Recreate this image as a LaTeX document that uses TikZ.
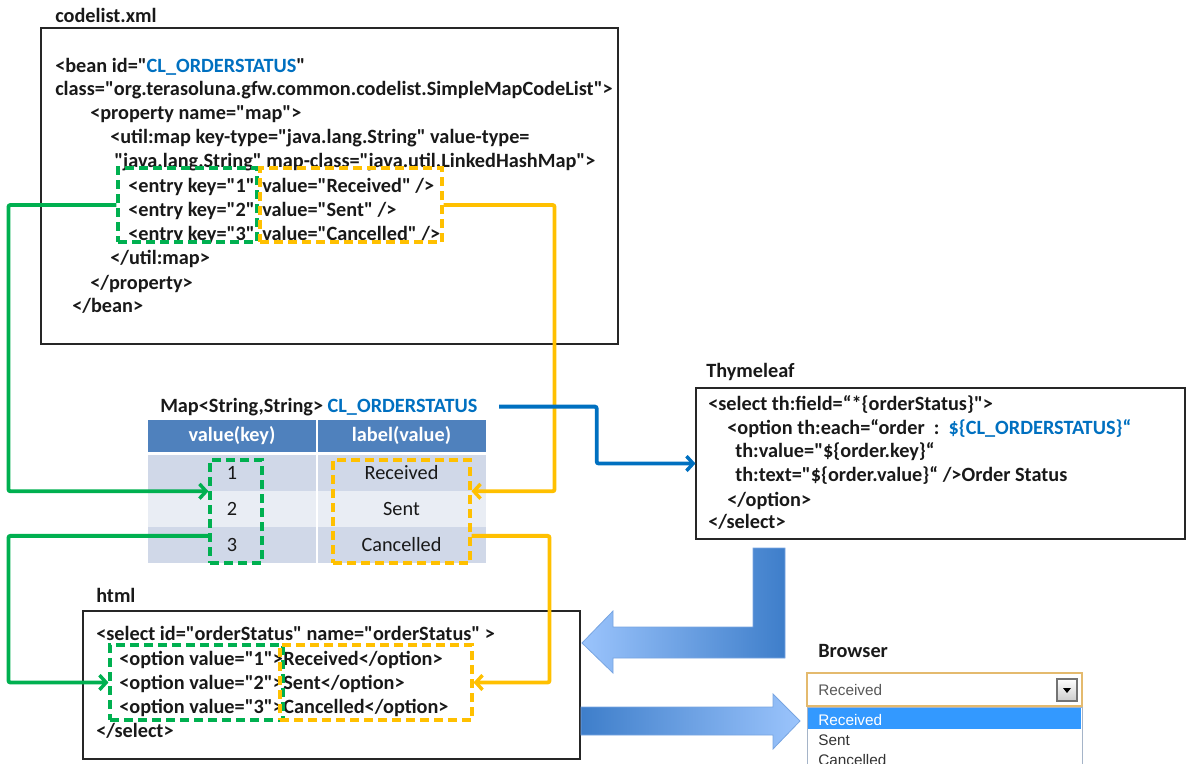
\documentclass[tikz,border=0pt]{standalone}
\usepackage{fontspec}
\setmainfont{Carlito}[Ligatures=TeXOff]
\newfontfamily\browserfont{Liberation Sans}
\usetikzlibrary{arrows.meta,fit,calc}

\definecolor{txt}{RGB}{25,25,25}
\definecolor{grn}{RGB}{0,176,80}
\definecolor{org}{RGB}{255,192,0}
\definecolor{blu}{RGB}{0,112,192}
\definecolor{hdr}{RGB}{79,129,189}
\definecolor{rowA}{RGB}{208,216,232}
\definecolor{rowB}{RGB}{233,237,244}
\definecolor{arrL}{RGB}{155,196,252}
\definecolor{arrR}{RGB}{62,126,202}
\definecolor{arrE}{RGB}{120,165,225}
\definecolor{selE}{RGB}{228,186,110}
\definecolor{hilite}{RGB}{51,153,255}
\definecolor{lstE}{RGB}{165,180,200}

\newcommand\codefont{\fontsize{15.2}{18}\selectfont\bfseries}
\newcommand\cellfont{\fontsize{15.2}{18}\selectfont}

\tikzset{
  code/.style={anchor=base west, inner sep=0pt, font=\codefont, text=txt},
  lbl/.style={code},
  codebox/.style={draw=black!85, line width=0.8pt, inner sep=0pt},
  grnbox/.style={draw=grn, line width=2.3pt, dash pattern=on 7pt off 3.5pt, inner sep=0pt},
  orgbox/.style={draw=org, line width=2.3pt, dash pattern=on 7pt off 3.5pt, inner sep=0pt},
  hdrcell/.style={fill=hdr, text=white, font=\codefont, inner sep=0pt,
    minimum width=126pt, minimum height=24pt},
  cell/.style={text=txt, font=\cellfont, inner sep=0pt,
    minimum width=126pt, minimum height=27pt},
  tip/.style={-{Straight Barb[length=5pt,width=11pt,line width=2.6pt]}},
  grnline/.style={draw=grn, line width=2.9pt, rounded corners=1.5pt, tip},
  orgline/.style={draw=org, line width=2.9pt, rounded corners=1.5pt, tip},
  bluline/.style={draw=blu, line width=2.9pt, rounded corners=1.5pt, tip},
  bigarrow/.style={draw=arrE, line width=0.6pt},
  brtext/.style={anchor=base west, inner sep=0pt, font=\browserfont\fontsize{11.5}{13}\selectfont}
}

\begin{document}
\begin{tikzpicture}[x=0.75pt,y=-0.75pt]
  \useasboundingbox (0,0) rectangle (1186,764);

  % codelist.xml
  \node[lbl] (xmllbl) at (55,22) {codelist.xml};
  \node[codebox, fit={(41,28)(618,344)}] (xmlbox) {};
  \node[code] (x1) at (55,72) {<bean id="\textcolor{blu}{CL\_ORDERSTATUS}"};
  \node[code] (x2) at (55,95) {class="org.terasoluna.gfw.common.codelist.SimpleMapCodeList">};
  \node[code] (x3) at (90,119) {<property name="map">};
  \node[code] (x4) at (110,143) {<util:map key-type="java.lang.String" value-type=};
  \node[code] (x5) at (114,167) {"java.lang.String" map-class="java.util.LinkedHashMap">};
  \node[code] (k1) at (128,192) {<entry key="1"};
  \node[code] (k2) at (128,216) {<entry key="2"};
  \node[code] (k3) at (128,240) {<entry key="3"};
  \node[code] (v1) at (262,192) {value="Received" />};
  \node[code] (v2) at (262,216) {value="Sent" />};
  \node[code] (v3) at (262,240) {value="Cancelled" />};
  \node[code] (x6) at (110,264) {</util:map>};
  \node[code] (x7) at (90,289) {</property>};
  \node[code] (x8) at (72,312) {</bean>};
  \node[grnbox, fit={(118,168)(257,242)}] (kxml) {};
  \node[orgbox, fit={(260,168)(442,242)}] (vxml) {};

  % the code list as a map
  \node[lbl] (maptitle) at (160,412) {Map<String,String> \textcolor{blu}{CL\_ORDERSTATUS}};
  \node[hdrcell] (hkey) at (232,436) {value(key)};
  \node[hdrcell] (hlab) at (401.5,436) {label(value)};
  \foreach \r/\yy/\lab/\rowc in {1/473/Received/rowA, 2/509/Sent/rowB, 3/545/Cancelled/rowA} {
    \node[cell, fill=\rowc] (key\r) at (232,\yy) {\r};
    \node[cell, fill=\rowc] (lab\r) at (401.5,\yy) {\lab};
  }
  \node[grnbox, fit={(210,460)(262,563)}] (ktab) {};
  \node[orgbox, fit={(333,460)(470,563)}] (vtab) {};
  \coordinate (k3mid) at ($(key3.north)!.25!(key3.south)$);

  % Thymeleaf
  \node[lbl] (thylbl) at (706,377) {Thymeleaf};
  \node[codebox, fit={(696,388)(1185,539)}] (thybox) {};
  \node[code] (t1) at (708,410) {<select th:field=“*\{orderStatus\}">};
  \node[code] (t2) at (727,434) {<option th:each=“order~~:~~\textcolor{blu}{\$\{CL\_ORDERSTATUS\}“}};
  \node[code] (t3) at (735,457) {th:value="\$\{order.key\}“};
  \node[code] (t4) at (735,481) {th:text="\$\{order.value\}“ />Order Status};
  \node[code] (t5) at (727,506) {</option>};
  \node[code] (t6) at (708,528) {</select>};

  % html
  \node[lbl] (htmllbl) at (96,602) {html};
  \node[codebox, fit={(83,611)(580,759)}] (htmlbox) {};
  \node[code] (h1) at (96,640) {<select id="orderStatus" name="orderStatus" >};
  \node[code] (o1) at (119,665) {<option value="1">};
  \node[code] (o2) at (119,689) {<option value="2">};
  \node[code] (o3) at (119,713) {<option value="3">};
  \node[code] (p1) at (o1.base east) {Received</option>};
  \node[code] (p2) at (o2.base east) {Sent</option>};
  \node[code] (p3) at (o3.base east) {Cancelled</option>};
  \node[code] (h2) at (96,737) {</select>};
  \node[grnbox, fit={(110,645)(283,720)}] (khtml) {};
  \node[orgbox, fit={(280,645)(472,720)}] (vhtml) {};

  % connectors
  \draw[grnline] (kxml.west) -- ++(-108,0) |- (ktab.west |- key1.south);
  \draw[orgline] (vxml.east) -- ++(111,0) |- (vtab.east |- key1.south);
  \draw[grnline] (ktab.west |- k3mid) -- ++(-200,0) |- (khtml.west);
  \draw[orgline] (vtab.east |- k3mid) -- ++(78,0) |- (vhtml.east);
  \draw[bluline, shorten <=16pt] (maptitle.east) -- ++(119,0) |- (thybox.west);

  % block arrows
  \shade[bigarrow, left color=arrL, right color=arrR]
    (753,548) -- (785,548) -- (785,658) -- (613,658) -- (613,673) -- (582,643)
    -- (613,611) -- (613,627) -- (753,627) -- cycle;
  \shade[bigarrow, left color=arrR, right color=arrL]
    (581,707) -- (773,707) -- (773,694) -- (800,721) -- (773,749) -- (773,735)
    -- (581,735) -- cycle;

  % browser
  \node[lbl] (brlbl) at (818,657) {Browser};
  \node[draw=lstE, line width=0.6pt, inner sep=0pt, fit={(807,707)(1082,790)}] (lst) {};
  \node[fill=hilite, inner sep=0pt, fit={(808,708)(1081,729)}] (hi) {};
  \node[draw=selE, line width=1pt, fill=white, inner sep=0pt, fit={(807,673)(1082,706)}] (sel) {};
  \node[brtext, text=black!65] (selval) at (818,695) {Received};
  \node[draw=black!55, line width=0.8pt, top color=white, bottom color=black!20,
        inner sep=0pt, fit={(1057,679)(1077,701)}] (btn) {};
  \fill[black] (btn.center) ++(-4,-2) -- ++(8,0) -- ++(-4,5) -- cycle;
  \node[brtext, text=white] (opt1) at (818,725) {Received};
  \node[brtext, text=black!80] (opt2) at (818,745) {Sent};
  \node[brtext, text=black!80] (opt3) at (818,765) {Cancelled};
\end{tikzpicture}
\end{document}
